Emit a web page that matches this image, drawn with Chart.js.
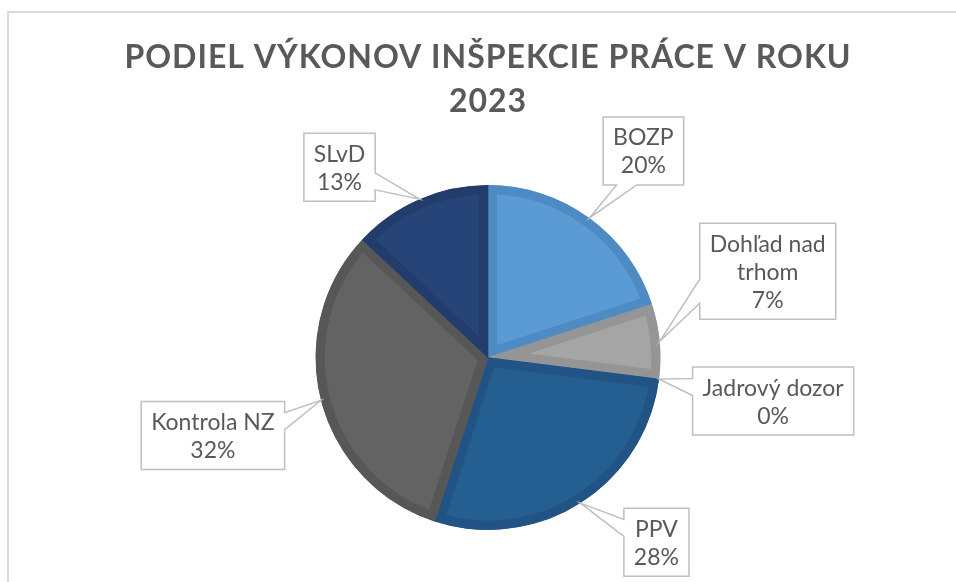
<!DOCTYPE html>
<html>
<head>
<meta charset="utf-8">
<script src="https://cdn.jsdelivr.net/npm/chart.js@4"></script>
<style>
  body { margin: 0; background: #fff; }
  canvas { display: block; }
</style>
</head>
<body>
<canvas id="chart" width="956" height="582"></canvas>
<script>
// podiel vykonov - hodnoty v percentach
const categories = ['BOZP', ['Dohľad nad', 'trhom'], 'Jadrový dozor', 'PPV', 'Kontrola NZ', 'SLvD'];
const shares = [20, 7, 0, 28, 32, 13];
const titleLines = ['PODIEL VÝKONOV INŠPEKCIE PRÁCE V ROKU', '2023'];

const fills = ['#5B9BD5', '#A5A5A5', '#ED7D31', '#255E91', '#636363', '#264478'];
const bands = ['#4F8BC3', '#959595', '#D86E26', '#215484', '#575757', '#223D6C'];
// posun stredu popisku od bodu na okraji vysece (px)
const labelOffsets = [[54, -67], [108, -70], [114, 22], [76, 39], [-108, 35], [-80, -32]];

const textColor = '#595959';
const labelFont = '23px Lato';

// ramcek grafu
const framePlugin = {
    id: 'frame',
    beforeDraw(chart) {
        const ctx = chart.ctx;
        ctx.save();
        ctx.fillStyle = '#fff';
        ctx.fillRect(0, 0, chart.width, chart.height);
        ctx.strokeStyle = '#D9D9D9';
        ctx.lineWidth = 2;
        ctx.strokeRect(8, 12, chart.width + 20, chart.height + 20);
        ctx.restore();
        ctx.letterSpacing = '1px'; // len pre nadpis
    },
    beforeDatasetsDraw(chart) {
        chart.ctx.letterSpacing = '0px';
    }
};

// popisky s bublinou (callout)
const calloutPlugin = {
    id: 'callouts',
    afterDraw(chart) {
        const ctx = chart.ctx;
        const meta = chart.getDatasetMeta(0);
        const total = shares.reduce((a, b) => a + b, 0);
        ctx.save();
        ctx.letterSpacing = '0px';
        ctx.font = labelFont;
        meta.data.forEach(function(arc, i) {
            const mid = (arc.startAngle + arc.endAngle) / 2;
            const tx = arc.x + Math.cos(mid) * arc.outerRadius;
            const ty = arc.y + Math.sin(mid) * arc.outerRadius;
            const name = Array.isArray(categories[i]) ? categories[i] : [categories[i]];
            const lines = name.concat([Math.round(shares[i] / total * 100) + '%']);
            const lineH = 28;
            let tw = 0;
            lines.forEach(function(l) { tw = Math.max(tw, ctx.measureText(l).width); });
            const w = tw + 20;
            const h = lines.length * lineH + 12;
            const cx = tx + labelOffsets[i][0];
            const cy = ty + labelOffsets[i][1];
            const l = cx - w / 2, t = cy - h / 2, r = cx + w / 2, b = cy + h / 2;

            const dx = tx - cx, dy = ty - cy;
            const dq = dx * h / w;
            let side;
            if (Math.abs(dy) > Math.abs(dq)) side = dy < 0 ? 'top' : 'bottom';
            else side = dx < 0 ? 'left' : 'right';
            const x1 = l + w * (dx > 0 ? 7 : 2) / 12, x2 = l + w * (dx > 0 ? 10 : 5) / 12;
            const y1 = t + h * (dy > 0 ? 7 : 2) / 12, y2 = t + h * (dy > 0 ? 10 : 5) / 12;

            ctx.beginPath();
            ctx.moveTo(l, t);
            if (side === 'top') { ctx.lineTo(x1, t); ctx.lineTo(tx, ty); ctx.lineTo(x2, t); }
            ctx.lineTo(r, t);
            if (side === 'right') { ctx.lineTo(r, y1); ctx.lineTo(tx, ty); ctx.lineTo(r, y2); }
            ctx.lineTo(r, b);
            if (side === 'bottom') { ctx.lineTo(x2, b); ctx.lineTo(tx, ty); ctx.lineTo(x1, b); }
            ctx.lineTo(l, b);
            if (side === 'left') { ctx.lineTo(l, y2); ctx.lineTo(tx, ty); ctx.lineTo(l, y1); }
            ctx.closePath();
            ctx.fillStyle = '#fff';
            ctx.fill();
            ctx.strokeStyle = '#BFBFBF';
            ctx.lineWidth = 1.5;
            ctx.stroke();

            ctx.fillStyle = textColor;
            ctx.textAlign = 'center';
            ctx.textBaseline = 'middle';
            lines.forEach(function(txt, k) {
                ctx.fillText(txt, cx, t + 6 + lineH / 2 + k * lineH + 1);
            });
        });
        ctx.restore();
    }
};

const ctx = document.getElementById('chart').getContext('2d');
const chart = new Chart(ctx, {
    type: 'pie',
    data: {
        labels: categories,
        datasets: [{
            data: shares,
            backgroundColor: fills,
            borderColor: bands,
            borderWidth: 9,
            borderAlign: 'inner',
            hoverOffset: 0
        }]
    },
    options: {
        responsive: false,
        animation: false,
        layout: { padding: { left: 20, right: 0, top: 0, bottom: 52 } },
        plugins: {
            legend: { display: false },
            tooltip: { enabled: false },
            title: {
                display: true,
                text: titleLines,
                color: textColor,
                font: { family: 'Lato', weight: 'bold', size: 32, lineHeight: 44 / 32 },
                padding: { top: 36, bottom: 61 }
            }
        }
    },
    plugins: [framePlugin, calloutPlugin]
});
</script>
</body>
</html>
